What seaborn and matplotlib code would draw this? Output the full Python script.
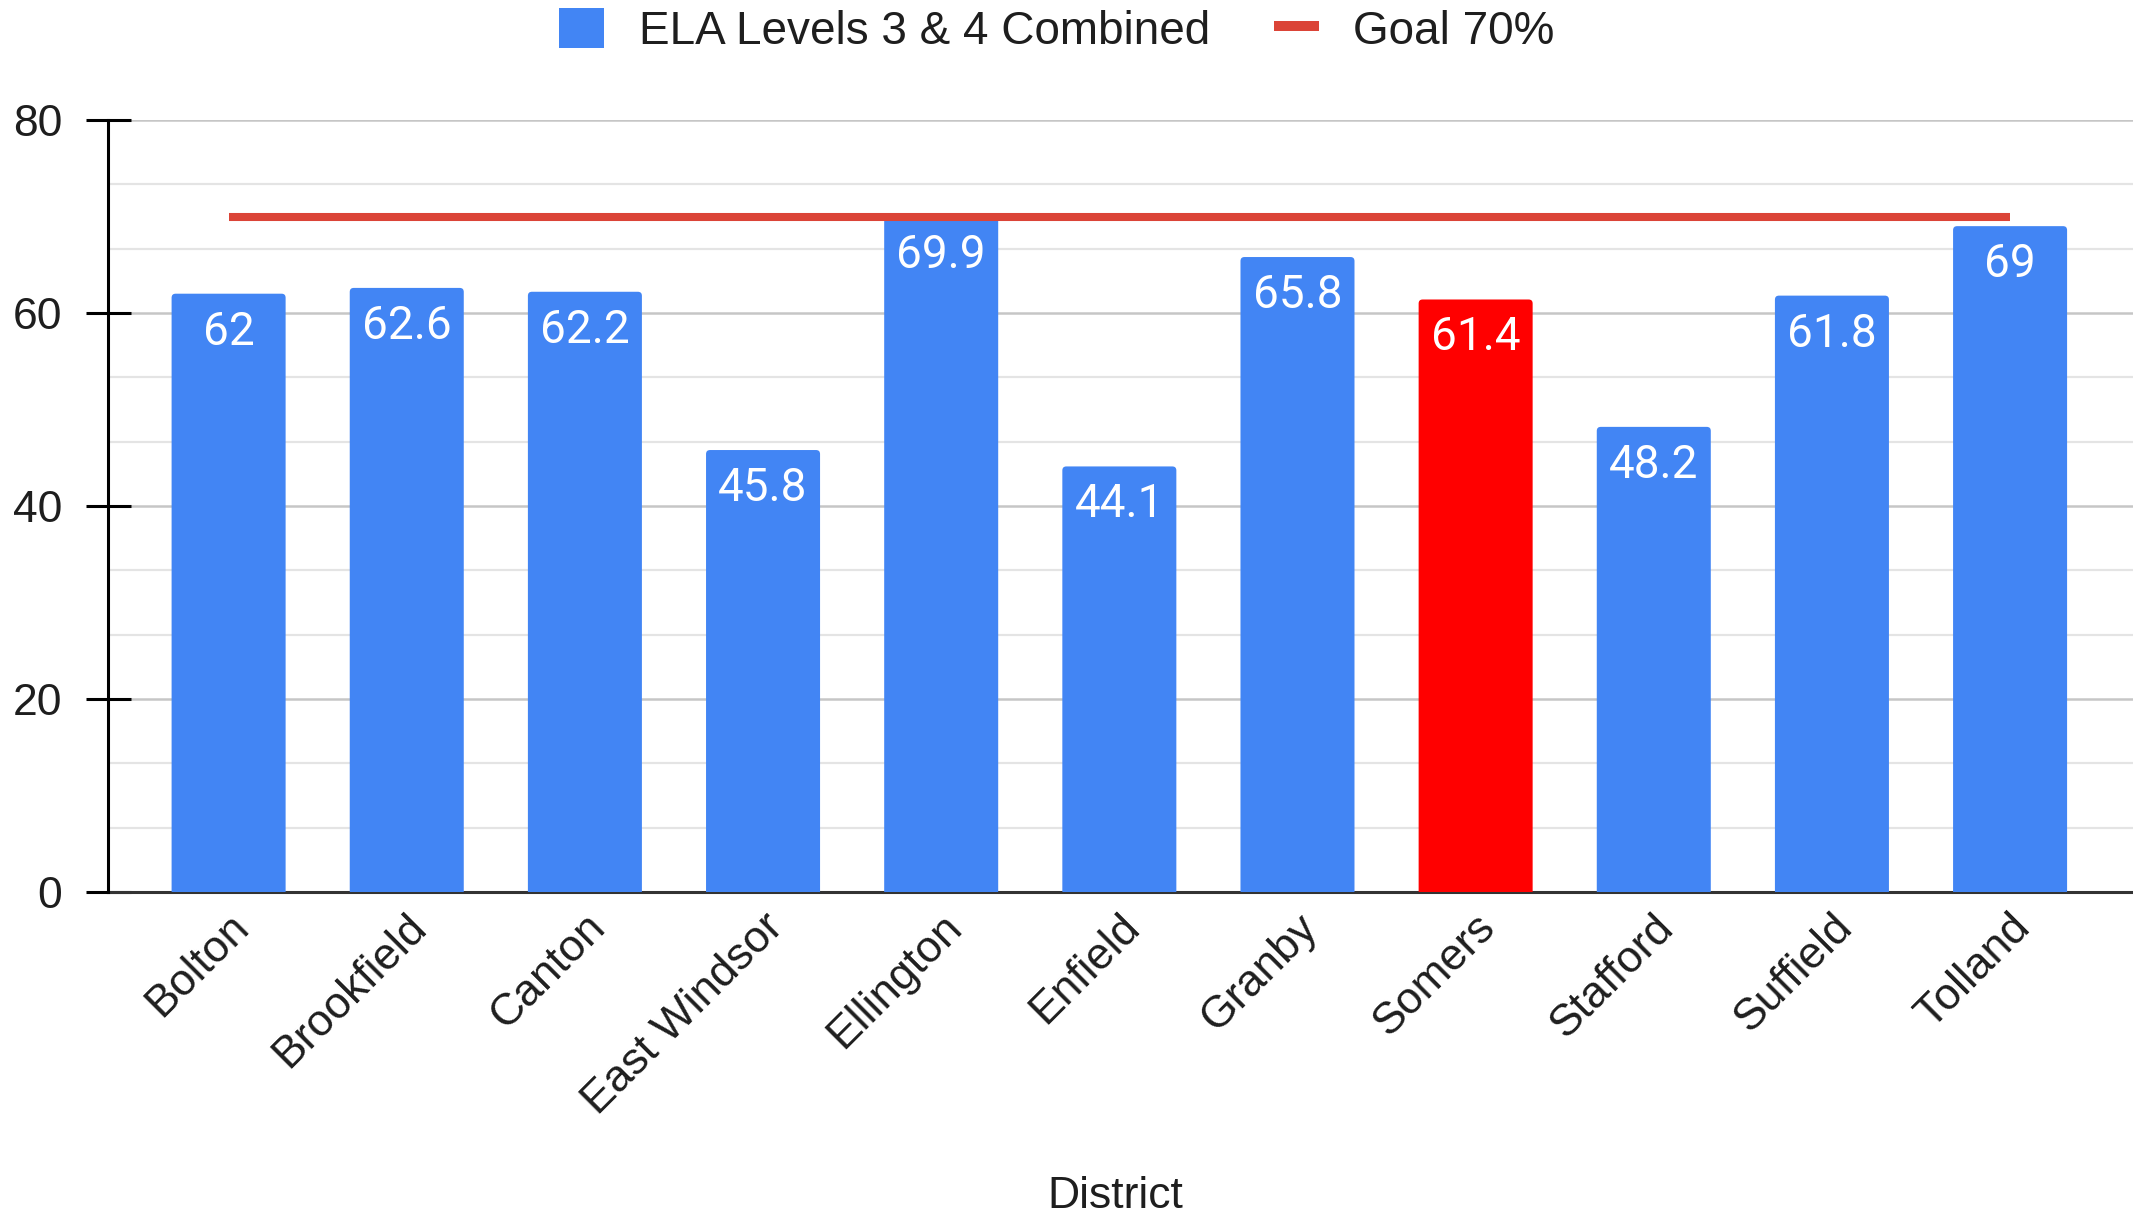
import numpy as np
import pandas as pd
import matplotlib
matplotlib.use("Agg")
import matplotlib.pyplot as plt
import matplotlib.transforms as mtransforms
from matplotlib.patches import FancyBboxPatch, Patch
from matplotlib.lines import Line2D
from matplotlib.ticker import MultipleLocator, FixedLocator
import seaborn as sns

# ---------------- data ----------------
districts = ["Bolton", "Brookfield", "Canton", "East Windsor", "Ellington",
             "Enfield", "Granby", "Somers", "Stafford", "Suffield", "Tolland"]
ela_values = [62, 62.6, 62.2, 45.8, 69.9, 44.1, 65.8, 61.4, 48.2, 61.8, 69]
value_labels = ["62", "62.6", "62.2", "45.8", "69.9", "44.1", "65.8",
                "61.4", "48.2", "61.8", "69"]
highlight = ["Somers"]
goal_value = 70
series_name = "ELA Levels 3 & 4 Combined"
goal_name = "Goal 70%"
y_ticks = [0, 20, 40, 60, 80]
x_title = "District"

# ---------------- style ----------------
BLUE = "#4285f4"
RED_BAR = "#ff0000"
GOAL_RED = "#db4437"
TEXT = "#1e1e1e"

sns.set_theme(style="white")
plt.rcParams["font.family"] = ["Liberation Sans", "DejaVu Sans"]

W, H, DPI = 2133, 1216, 100
fig = plt.figure(figsize=(W / DPI, H / DPI), dpi=DPI)
ax_left, ax_right, ax_bottom_px, ax_top_px = 108, 2133, 892, 120
ax = fig.add_axes([ax_left / W, 1 - ax_bottom_px / H,
                   (ax_right - ax_left) / W, (ax_bottom_px - ax_top_px) / H])

df = pd.DataFrame({"District": districts, "Value": ela_values})
palette = {d: (RED_BAR if d in highlight else BLUE) for d in districts}
sns.barplot(data=df, x="District", y="Value", hue="District", palette=palette,
            order=districts, hue_order=districts, width=0.64, legend=False,
            saturation=1, ax=ax, zorder=3)

xmin, xmax = -0.677, len(districts) - 1 + 0.69
ymin, ymax = 0, 80
ax.set_xlim(xmin, xmax)
ax.set_ylim(ymin, ymax)

# rounded top corners for the bars (derived from seaborn's rectangles)
x_per_px = (xmax - xmin) / (ax_right - ax_left)
y_per_px = (ymax - ymin) / (ax_bottom_px - ax_top_px)
r_px = 4
rects = list(ax.patches)
for rect, lab in zip(rects, value_labels):
    x, w, h = rect.get_x(), rect.get_width(), rect.get_height()
    fc = rect.get_facecolor()
    rect.remove()
    ext = 3.0
    ax.add_patch(FancyBboxPatch(
        (x, -ext), w, h + ext,
        boxstyle=f"round,pad=0,rounding_size={r_px * x_per_px}",
        mutation_aspect=y_per_px / x_per_px,
        facecolor=fc, edgecolor="none", zorder=3))
    ax.annotate(lab, xy=(x + w / 2, h), xytext=(0, -51 * 72 / DPI),
                textcoords="offset points", ha="center", va="baseline",
                color="white", fontsize=33, family=["Roboto", "DejaVu Sans"],
                zorder=5)

# goal line
ax.hlines(goal_value, 0, len(districts) - 1, colors=GOAL_RED,
          linewidth=5.8, capstyle="butt", zorder=4)

# grid
ax.yaxis.set_major_locator(FixedLocator(y_ticks))
ax.yaxis.set_minor_locator(MultipleLocator(20 / 3))
ax.grid(which="major", axis="y", color="#c6c6c6", linewidth=1.8)
ax.grid(which="minor", axis="y", color="#e4e4e4", linewidth=1.6)
ax.grid(which="major", axis="x", visible=False)
ax.set_axisbelow(True)

# spines
for s in ["top", "right"]:
    ax.spines[s].set_visible(False)
ax.spines["left"].set_color("black")
ax.spines["left"].set_linewidth(2.2)
ax.spines["bottom"].set_color("#333333")
ax.spines["bottom"].set_linewidth(2.2)
ax.spines["bottom"].set_zorder(2)

# ticks
ax.tick_params(axis="y", which="major", direction="inout", length=32.4,
               width=2.2, pad=16.9, labelsize=32, labelcolor=TEXT,
               color="black", left=True)
ax.tick_params(axis="y", which="minor", length=0)
ax.tick_params(axis="x", which="major", length=0, pad=0, labelsize=32,
               labelcolor=TEXT)
ax.set_xticks(range(len(districts)))
ax.set_xticklabels(districts, rotation=45, ha="right", va="baseline",
                   rotation_mode="anchor")
offset = mtransforms.ScaledTranslation(22 / DPI, -37 / DPI, fig.dpi_scale_trans)
for lbl in ax.get_xticklabels():
    lbl.set_transform(lbl.get_transform() + offset)

ax.set_ylabel("")
ax.set_xlabel(x_title, fontsize=32, color=TEXT)
ax.xaxis.set_label_coords((1115 - ax_left) / (ax_right - ax_left),
                          ((H - 1197) - (H - ax_bottom_px)) / (ax_bottom_px - ax_top_px))
ax.xaxis.label.set_va("center")

# legend
handles = [Patch(facecolor=BLUE, edgecolor="none", label=series_name),
           Line2D([0], [0], color=GOAL_RED, lw=7.2, solid_capstyle="butt",
                  label=goal_name)]
fig.legend(handles=handles, loc="center", bbox_to_anchor=(1057 / W, 1 - 31 / H),
           bbox_transform=fig.transFigure, ncol=2, frameon=False, fontsize=33,
           labelcolor=TEXT, handlelength=0.98, handleheight=0.98,
           handletextpad=0.75, columnspacing=1.4, borderpad=0, borderaxespad=0)

fig.savefig("out.png", dpi=DPI)
